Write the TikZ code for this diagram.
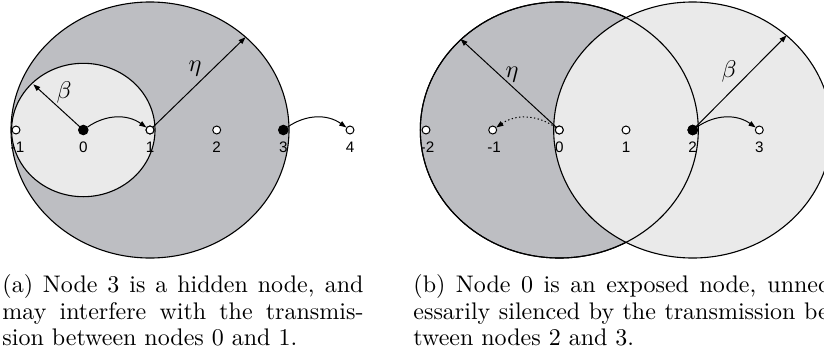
\documentclass[tikz,border=0pt]{standalone}
\usepackage{fontspec}
\newfontfamily\labelfont{Liberation Sans}
\usetikzlibrary{arrows.meta}
\definecolor{darkfill}{RGB}{189,190,194}
\definecolor{lightfill}{RGB}{234,234,234}
\begin{document}
\begin{tikzpicture}[x=0.4531pt,y=0.4531pt,
  opennode/.style={circle,draw,fill=white,line width=0.45pt,minimum size=3.6pt,inner sep=0pt},
  fillednode/.style={circle,draw,fill=black,line width=0.45pt,minimum size=4.3pt,inner sep=0pt},
  lab/.style={font=\labelfont\fontsize{6.9}{7}\selectfont,anchor=base,inner sep=0pt},
  arr/.style={-{Triangle[length=3.2pt,width=2.3pt]},line width=0.45pt},
  region/.style={draw,line width=0.5pt},
  greek/.style={font=\fontsize{11}{13}\selectfont,inner sep=0pt},
  captext/.style={font=\fontsize{10.87}{13}\selectfont,anchor=base west,inner sep=0pt}
]
\path[use as bounding box,clip] (0,0) rectangle (824,-348);

% ---------- panel (a) ----------
\draw[region,fill=darkfill] (150,-130) ellipse [x radius=62.98pt,y radius=58.0pt];
\draw[region,fill=lightfill] (83.3,-130) ellipse [x radius=32.49pt,y radius=30.22pt];

\coordinate (abeta) at (33.3,-84.3);
\coordinate (aeta) at (245.5,-37.2);

\node[opennode] (am1) at (16,-130) {};
\node[fillednode] (a0) at (83.3,-130) {};
\node[opennode] (a1) at (150,-130) {};
\node[opennode] (a2) at (216.7,-130) {};
\node[fillednode] (a3) at (283.3,-130) {};
\node[opennode] (a4) at (350,-130) {};

\draw[arr] (a0.center) -- (abeta);
\draw[arr] (a1.center) -- (aeta);
\node[opennode] at (a1) {};
\draw[arr] (a0) to[bend left=35] (a1);
\draw[arr] (a3) to[bend left=35] (a4);

\node[lab] (lam1) at (17.5,-152.5) {-1};
\node[lab] (la0) at (83.3,-152.5) {0};
\node[lab] (la1) at (150,-152.5) {1};
\node[lab] (la2) at (216.7,-152.5) {2};
\node[lab] (la3) at (283.3,-152.5) {3};
\node[lab] (la4) at (350,-152.5) {4};

\node[greek] (lbetaa) at (64,-92) {$\beta$};
\node[greek] (letaa) at (195,-69) {$\eta$};

\node[captext] (capa1) at (2,-292.5) {\makebox[163.6pt][s]{(a) Node 3 is a hidden node, and}};
\node[captext] (capa2) at (2,-319) {\makebox[163.6pt][s]{may interfere with the transmis-}};
\node[captext] (capa3) at (2,-345.5) {sion between nodes 0 and 1.};

% ---------- panel (b) ----------
\draw[region,fill=darkfill] (559.3,-130) ellipse [x radius=62.98pt,y radius=58.0pt];
\draw[region,fill=lightfill] (692.7,-130) ellipse [x radius=62.98pt,y radius=58.0pt];
\draw[region] (559.3,-130) ellipse [x radius=62.98pt,y radius=58.0pt];

\coordinate (beta) at (460.5,-39);
\coordinate (bbeta) at (786.5,-35.5);

\node[opennode] (bm2) at (426,-130) {};
\node[opennode] (bm1) at (492.7,-130) {};
\node[opennode] (b0) at (559.3,-130) {};
\node[opennode] (b1) at (626,-130) {};
\node[fillednode] (b2) at (692.7,-130) {};
\node[opennode] (b3) at (759.3,-130) {};

\draw[arr] (b0.center) -- (beta);
\draw[arr] (b2.center) -- (bbeta);
\node[opennode] at (b0) {};
\node[fillednode] at (b2) {};
\draw[arr,dash pattern=on 0.6pt off 1.1pt] (b0) to[bend right=35] (bm1);
\draw[arr] (b2) to[bend left=35] (b3);

\node[lab] (lbm2) at (427.5,-152.5) {-2};
\node[lab] (lbm1) at (494.2,-152.5) {-1};
\node[lab] (lb0) at (559.3,-152.5) {0};
\node[lab] (lb1) at (626,-152.5) {1};
\node[lab] (lb2) at (692.7,-152.5) {2};
\node[lab] (lb3) at (759.3,-152.5) {3};

\node[greek] (letab) at (512,-75) {$\eta$};
\node[greek] (lbetab) at (729,-71) {$\beta$};

\node[captext] (capb1) at (413,-292.5) {\makebox[191.8pt][s]{(b) Node 0 is an exposed node, unnec-}};
\node[captext] (capb2) at (413,-319) {\makebox[191.8pt][s]{essarily silenced by the transmission be-}};
\node[captext] (capb3) at (413,-345.5) {tween nodes 2 and 3.};
\end{tikzpicture}
\end{document}
